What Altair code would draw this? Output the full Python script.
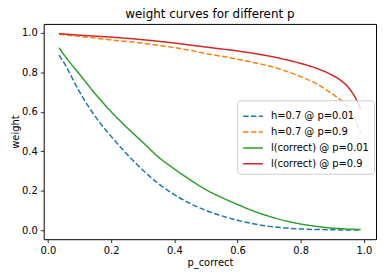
import altair as alt
import pandas as pd

p_correct = [0.035, 0.05, 0.1, 0.15, 0.2, 0.25, 0.3, 0.35, 0.4, 0.45, 0.5, 0.55,
             0.6, 0.65, 0.7, 0.75, 0.8, 0.85, 0.9, 0.93, 0.95, 0.97, 0.99]

h_p001 = [0.887, 0.85, 0.70, 0.575, 0.475, 0.385, 0.305, 0.235, 0.18, 0.135, 0.10, 0.072,
          0.05, 0.032, 0.019, 0.011, 0.006, 0.003, 0.002, 0.001, 0.001, 0.0, 0.0]
h_p09 = [0.993, 0.99, 0.982, 0.973, 0.964, 0.956, 0.947, 0.937, 0.925, 0.911, 0.895, 0.881,
         0.866, 0.85, 0.832, 0.808, 0.778, 0.742, 0.69, 0.655, 0.62, 0.57, 0.49]
l_p001 = [0.925, 0.89, 0.79, 0.69, 0.60, 0.52, 0.445, 0.37, 0.31, 0.255, 0.205, 0.165,
          0.13, 0.097, 0.07, 0.048, 0.031, 0.019, 0.01, 0.007, 0.005, 0.004, 0.003]
l_p09 = [0.996, 0.994, 0.988, 0.983, 0.978, 0.972, 0.965, 0.957, 0.948, 0.938, 0.928, 0.918,
         0.908, 0.896, 0.882, 0.865, 0.845, 0.82, 0.785, 0.755, 0.725, 0.68, 0.615]

series = ["h=0.7 @ p=0.01", "h=0.7 @ p=0.9", "l(correct) @ p=0.01", "l(correct) @ p=0.9"]
colors = ["#1f77b4", "#ff7f0e", "#2ca02c", "#d62728"]
dashes = [[5.5, 2.4], [5.5, 2.4], [1, 0], [1, 0]]

rows = []
for name, vals in zip(series, [h_p001, h_p09, l_p001, l_p09]):
    for x, y in zip(p_correct, vals):
        rows.append({"p_correct": x, "weight": y, "series": name})
df = pd.DataFrame(rows)

font = "DejaVu Sans"
ticks = [0.0, 0.2, 0.4, 0.6, 0.8, 1.0]

chart = alt.Chart(df).mark_line(strokeWidth=1.5, clip=True, interpolate="monotone").encode(
    x=alt.X("p_correct:Q", scale=alt.Scale(domain=[-0.0135, 1.0385], nice=False, zero=False),
            axis=alt.Axis(values=ticks, format=".1f", title="p_correct", titlePadding=2)),
    y=alt.Y("weight:Q", scale=alt.Scale(domain=[-0.046, 1.045], nice=False, zero=False),
            axis=alt.Axis(values=ticks, format=".1f", title="weight", titlePadding=1)),
    color=alt.Color("series:N", scale=alt.Scale(domain=series, range=colors),
                    legend=alt.Legend(title=None, orient="none", legendX=195, legendY=77,
                                      symbolType="stroke", symbolSize=400, symbolStrokeWidth=1.5,
                                      labelFont=font, labelFontSize=10, labelColor="black",
                                      labelLimit=300, rowPadding=-5, labelOffset=7,
                                      padding=5, strokeColor="#cccccc", cornerRadius=3,
                                      fillColor="rgba(255,255,255,0.8)")),
    strokeDash=alt.StrokeDash("series:N", scale=alt.Scale(domain=series, range=dashes)),
    order=alt.Order("p_correct:Q"),
).properties(
    width=335, height=217,
    title=alt.TitleParams("weight curves for different p", font=font, fontSize=12,
                          fontWeight="normal", color="black", offset=3),
    autosize=alt.AutoSizeParams(type="none"),
    padding={"left": 36, "top": 15, "right": 5, "bottom": 30},
).configure_view(
    stroke="black", strokeWidth=1
).configure_axis(
    grid=False, domain=False, tickColor="black", tickSize=3.5, tickWidth=0.8,
    labelFont=font, labelFontSize=10, labelColor="black", labelPadding=3,
    titleFont=font, titleFontSize=10, titleFontWeight="normal", titleColor="black",
)

chart.save("out.html", embed_options={"renderer": "svg", "actions": False})
